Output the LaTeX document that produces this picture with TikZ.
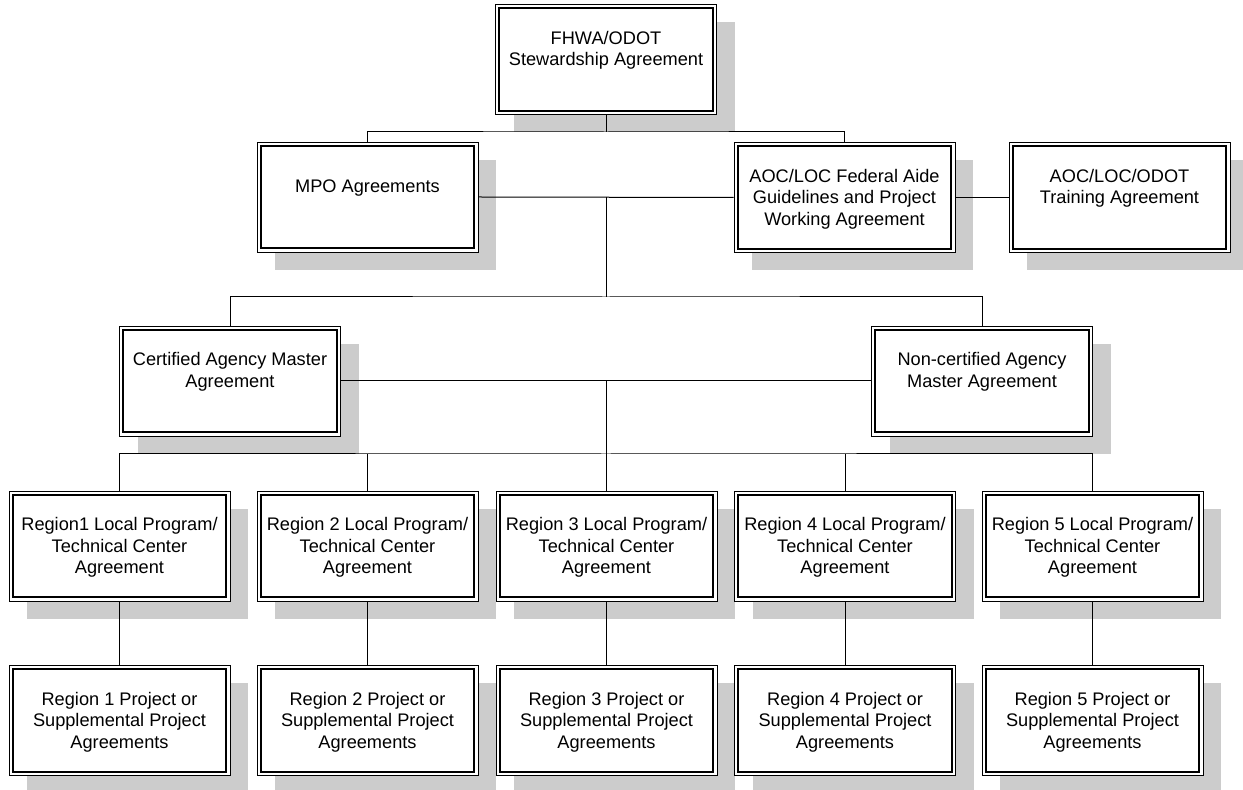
\documentclass[tikz,border=0pt]{standalone}
\usepackage{fontspec}
\setmainfont{Liberation Sans}
\usetikzlibrary{shadows}

\begin{document}
\begin{tikzpicture}[x=0.5pt, y=-0.5pt,
    box/.style={draw, line width=0.45pt, fill=white, align=center,
      minimum width=110.5pt, minimum height=55pt, inner sep=0pt,
      font=\fontsize{9.1}{10.75}\selectfont, text depth=0.2pt,
      execute at begin node=\strut, execute at end node=\strut,
      drop shadow={shadow xshift=9pt, shadow yshift=-9pt,
        fill=black!20, opacity=1}},
    innerline/.style={draw, line width=0.9pt},
    link/.style={draw, line width=0.5pt}]

  \useasboundingbox (0,0) rectangle (1243,790);

  % top level
  \node[box] (fhwa) at (606,59.5) {FHWA/ODOT\\Stewardship Agreement\\\strut};

  % second level
  \node[box] (mpo) at (367.5,197) {MPO Agreements\\\strut};
  \node[box] (aoc) at (844.5,197.5)
    {AOC/LOC Federal Aide\\Guidelines and Project\\Working Agreement};
  \node[box] (train) at (1119.5,197.5) {AOC/LOC/ODOT\\Training Agreement\\\strut};

  % master agreements
  \node[box] (cert) at (230,381) {Certified Agency Master\\Agreement\\\strut};
  \node[box] (noncert) at (982,381) {Non-certified Agency\\Master Agreement\\\strut};

  % regions and their projects
  \foreach \i/\x/\lbl in {1/119.5/Region1, 2/367.5/Region 2, 3/606.5/Region 3,
                          4/845/Region 4, 5/1092.5/Region 5} {
    \node[box] (reg\i) at (\x,546) {\lbl\ Local Program/\\Technical Center\\Agreement};
    \node[box] (proj\i) at (\x,720.5)
      {Region \i\ Project or\\Supplemental Project\\Agreements};
  }

  % inner frame of every box
  \foreach \n in {fhwa, mpo, aoc, train, cert, noncert,
                  reg1, reg2, reg3, reg4, reg5, proj1, proj2, proj3, proj4, proj5}
    \draw[innerline] ([shift={(4.2,4.2)}]\n.north west)
      rectangle ([shift={(-4.2,-4.2)}]\n.south east);

  % connectors
  \coordinate (bus1) at (606,132);
  \coordinate (mid1) at (606,197);
  \coordinate (bus2) at (606,297);
  \coordinate (mid2) at (606,381);
  \coordinate (bus3) at (606,454);

  \draw[link] (fhwa.south) -- (bus1);
  \draw[link] (mpo.north) |- (bus1) -| (aoc.north);
  \draw[link] (mpo.east) -- (aoc.west);
  \draw[link] (aoc.east) -- (train.west);
  \draw[link] (mid1) -- (bus2);
  \draw[link] (cert.north) |- (bus2) -| (noncert.north);
  \draw[link] (cert.east) -- (noncert.west);
  \draw[link] (mid2) -- (bus3);
  \draw[link] (reg1.north) |- (bus3) -| (reg5.north);
  \foreach \i in {2,3,4}
    \draw[link] (reg\i.north) -- (reg\i.north |- bus3);
  \foreach \i in {1,...,5}
    \draw[link] (reg\i.south) -- (proj\i.north);

\end{tikzpicture}
\end{document}
